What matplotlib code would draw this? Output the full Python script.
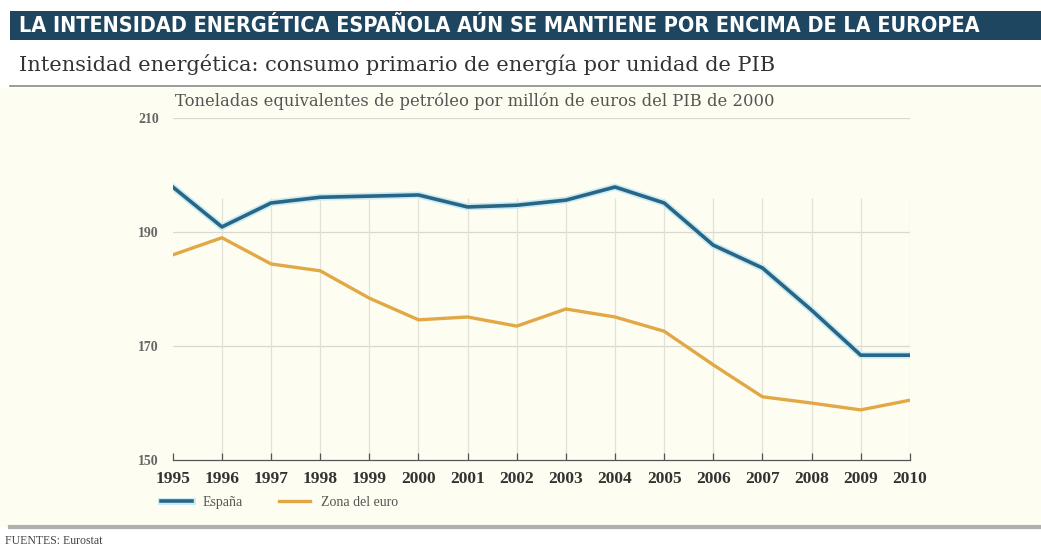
import matplotlib.pyplot as plt
from matplotlib.patches import Rectangle
from matplotlib.lines import Line2D
import matplotlib.patheffects as pe

years = list(range(1995, 2011))
espana = [197.9, 190.9, 195.1, 196.1, 196.3, 196.5, 194.4, 194.7, 195.6, 197.9,
          195.1, 187.7, 183.7, 176.3, 168.4, 168.4]
zona_euro = [186.0, 189.0, 184.4, 183.2, 178.4, 174.6, 175.1, 173.5, 176.5, 175.1,
             172.6, 166.7, 161.1, 160.0, 158.8, 160.5]
y_ticks = [150, 170, 190, 210]

BLUE = '#2b6585'
GOLD = '#e2a845'
CREAM = '#fdfdf1'
NAVY = '#1f4660'
SERIF = 'Liberation Serif'

fig = plt.figure(figsize=(10.41, 5.49), dpi=100)
fig.patch.set_facecolor('white')

# background panels
fig.add_artist(Rectangle((0, 0.04), 1, 0.80, transform=fig.transFigure,
                         facecolor=CREAM, edgecolor='none', zorder=-5))
fig.add_artist(Rectangle((0.01, 0.927), 0.99, 0.053, transform=fig.transFigure,
                         facecolor=NAVY, edgecolor='none'))
fig.add_artist(Line2D([0.01, 1], [0.843, 0.843], transform=fig.transFigure,
                      color='#8a8a8a', lw=1.2))
fig.add_artist(Line2D([0.01, 1], [0.04, 0.04], transform=fig.transFigure,
                      color='#b0b0b0', lw=3))

fig.text(0.018, 0.953, 'LA INTENSIDAD ENERGÉTICA ESPAÑOLA AÚN SE MANTIENE POR ENCIMA DE LA EUROPEA',
         color='white', fontsize=15.5, fontweight='bold', family='DejaVu Sans',
         fontstretch='condensed', va='center')
fig.text(0.018, 0.882, 'Intensidad energética: consumo primario de energía por unidad de PIB',
         color='#333333', fontsize=15, family='DejaVu Serif', va='center')
fig.text(0.168, 0.815, 'Toneladas equivalentes de petróleo por millón de euros del PIB de 2000',
         color='#555555', fontsize=11.8, family='DejaVu Serif', va='center')
fig.text(0.005, 0.015, 'FUENTES: Eurostat', color='#444444', fontsize=8.5,
         family=SERIF, va='center')

ax = fig.add_axes([0.166, 0.162, 0.708, 0.623])
ax.set_facecolor('none')
ax.set_xlim(1995, 2010)
ax.set_ylim(150, 210)

for y in y_ticks[1:]:
    ax.axhline(y, color='#d9d9d0', lw=0.9, zorder=0)
ax.vlines(years[1:], 150, 196, color='#e2e2d8', lw=0.9, zorder=0)

halo = [pe.Stroke(linewidth=5, foreground='#c8ecf4'), pe.Normal()]
ax.plot(years, espana, color=BLUE, lw=2.6, path_effects=halo, solid_joinstyle='round',
        label='España', zorder=3)
ax.plot(years, zona_euro, color=GOLD, lw=2.4, solid_joinstyle='round',
        label='Zona del euro', zorder=2)

for s in ['top', 'right', 'left']:
    ax.spines[s].set_visible(False)
ax.spines['bottom'].set_color('#555555')
ax.spines['bottom'].set_linewidth(0.9)

ax.set_xticks(years)
ax.set_xticklabels([str(y) for y in years], family=SERIF, fontsize=12.5,
                   fontweight='bold', color='#333333')
ax.tick_params(axis='x', direction='in', length=5, width=0.9, color='#555555', pad=8)
ax.set_yticks(y_ticks)
ax.set_yticklabels([str(y) for y in y_ticks], family=SERIF, fontsize=10,
                   fontweight='bold', color='#666666')
ax.tick_params(axis='y', length=0, pad=10)

leg = ax.legend(loc='center', bbox_to_anchor=(0.145, -0.125), ncol=2,
                frameon=False, handlelength=2.2, columnspacing=2.6,
                prop={'family': SERIF, 'size': 10})
for t in leg.get_texts():
    t.set_color('#555555')

fig.savefig('out.png', dpi=100, facecolor=fig.get_facecolor())
